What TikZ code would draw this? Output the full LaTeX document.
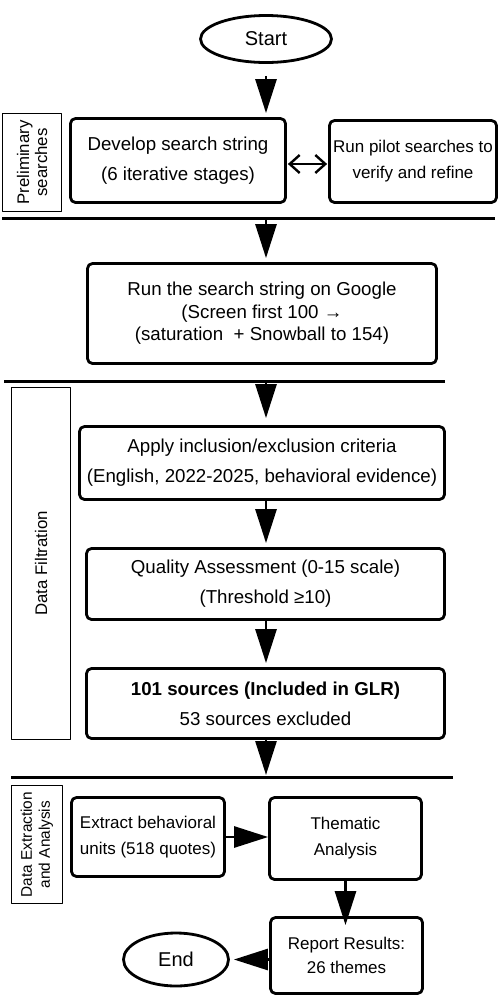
\documentclass[tikz,border=0pt]{standalone}
\usepackage{fontspec}
\setmainfont{Liberation Sans}
\usetikzlibrary{arrows.meta,shapes.geometric}

\begin{document}
\begin{tikzpicture}[x=1pt, y=-1pt, line join=round]
  % \xm is the x of the main vertical flow line.
  \pgfmathsetmacro{\xm}{266}

  \tikzset{
    stepbox/.style={draw, rounded corners=5pt, line width=2.8pt, align=center,
      inner sep=0pt, font=\fontsize{18.7}{30}\selectfont},
    smallbox/.style={stepbox, font=\fontsize{17}{26}\selectfont},
    endcap/.style={draw, ellipse, line width=2.8pt, inner sep=0pt,
      font=\fontsize{20}{24}\selectfont},
    phasebox/.style={draw, line width=1.2pt, rotate=90, align=center,
      inner sep=0pt, font=\fontsize{16.8}{18}\selectfont},
    sepline/.style={line width=3pt},
    flow/.style={line width=2.8pt, -{Triangle[length=34pt,width=21pt]}},
    twoway/.style={line width=2.4pt, {Straight Barb[length=10pt,width=18pt]}-{Straight Barb[length=10pt,width=18pt]}},
  }

  \useasboundingbox (0,0) rectangle (501,997);

  % terminals
  \node[endcap, minimum width=131pt, minimum height=47pt] (start) at (266,39) {Start};
  \node[endcap, minimum width=105pt, minimum height=53pt] (end) at (176,959.5) {End};

  % phase labels
  \node[phasebox, minimum width=98pt, minimum height=59pt] (prelim) at (32,162.5)
    {Preliminary\\searches};
  \node[phasebox, minimum width=352pt, minimum height=59pt] (filtration) at (41,563.5)
    {Data Filtration};
  \node[phasebox, minimum width=118pt, minimum height=51pt,
    font=\fontsize{15.4}{18}\selectfont] (extraction) at (37,844.5)
    {Data Extraction\\and Analysis};

  % steps
  \node[stepbox, minimum width=215pt, minimum height=84pt] (develop) at (178,160.5)
    {Develop search string\\(6 iterative stages)};
  \node[smallbox, minimum width=167pt, minimum height=82pt] (pilot) at (413,161.5)
    {Run pilot searches to\\verify and refine};
  \node[stepbox, minimum width=349pt, minimum height=100pt,
    font=\fontsize{18.7}{22.5}\selectfont] (run) at (262,313.5)
    {Run the search string on Google\\(Screen first 100 \textrightarrow\\(saturation~ + Snowball to 154)};
  \node[stepbox, minimum width=365pt, minimum height=73pt] (apply) at (262,463)
    {Apply inclusion/exclusion criteria\\(English, 2022-2025, behavioral evidence)};
  \node[stepbox, minimum width=358pt, minimum height=71pt] (quality) at (265.5,584)
    {Quality Assessment (0-15 scale)\\(Threshold ≥10)};
  \node[stepbox, minimum width=358pt, minimum height=70pt] (sources) at (265.5,703.5)
    {\textbf{101 sources (Included in GLR)}\\53 sources excluded};
  \node[smallbox, minimum width=153pt, minimum height=79pt] (extract) at (148,837)
    {Extract behavioral\\units (518 quotes)};
  \node[smallbox, minimum width=152pt, minimum height=82pt] (thematic) at (345.5,838.5)
    {Thematic\\Analysis};
  \node[smallbox, minimum width=152pt, minimum height=76pt,
    font=\fontsize{17}{24}\selectfont] (report) at (346.5,955.5)
    {Report Results:\\26 themes};

  % phase separators
  \foreach \n/\xa/\xb/\y in {one/2/495/218, two/4/445/381, three/11/453/777}{
    \coordinate (sepL\n) at (\xa,\y);
    \coordinate (sepR\n) at (\xb,\y);
    \coordinate (cut\n) at (\xm,\y);
    \draw[sepline] (sepL\n) -- (sepR\n);
  }

  % connectors
  \draw[flow, shorten <=12pt, shorten >=4pt] (start.south) -- (start.south |- develop.north);
  \draw[twoway, shorten <=1pt, shorten >=1pt]
    ([yshift=-3.5pt]develop.east) -- ([yshift=-3.5pt]develop.east -| pilot.west);
  \draw[flow, shorten >=4pt] (cutone) -- (cutone |- run.north);
  \draw[flow, shorten >=7pt] (cuttwo) -- (cuttwo |- apply.north);
  \draw[flow, shorten >=4pt] (apply.south -| cutone) -- (quality.north -| cutone);
  \draw[flow, shorten >=4pt] (quality.south -| cutone) -- (sources.north -| cutone);
  \draw[flow, shorten >=2pt] (sources.south -| cutone) -- (cutthree);
  \draw[flow] (extract.east) -- (extract.east -| thematic.west);
  \draw[flow, shorten >=-9pt] (thematic.south) -- (thematic.south |- report.north);
  \draw[flow, shorten >=4pt] (end.east -| report.west) -- (end.east);
\end{tikzpicture}
\end{document}
